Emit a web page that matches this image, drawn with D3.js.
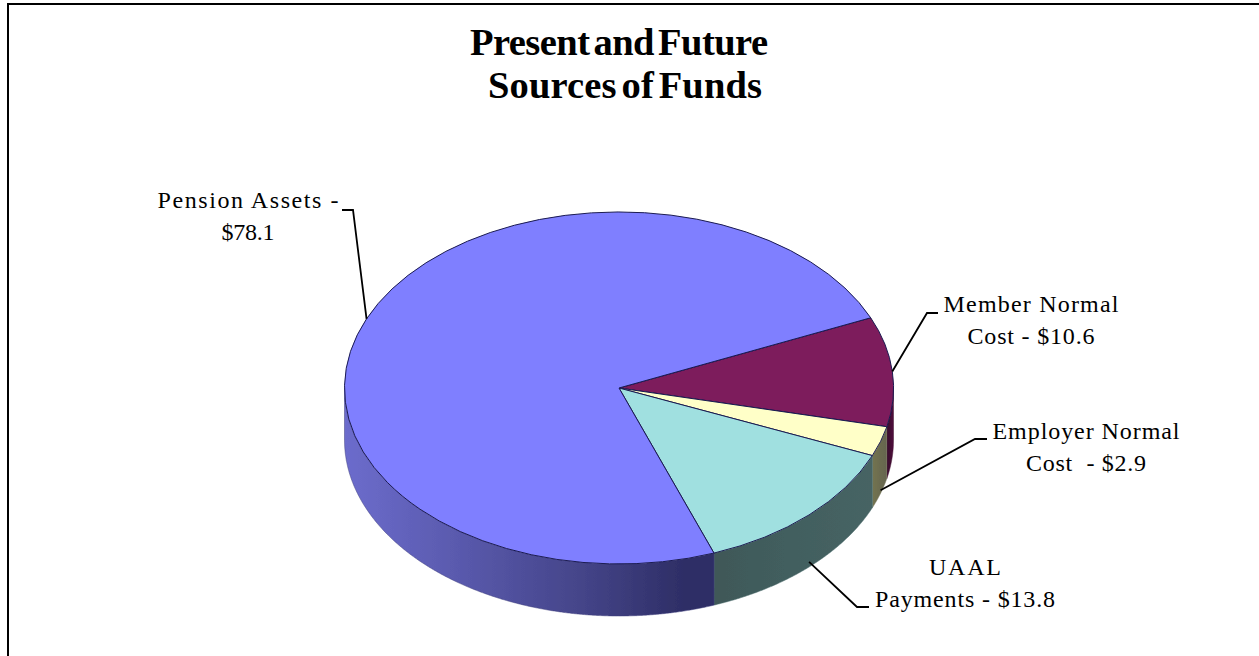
<!DOCTYPE html>
<html><head><meta charset="utf-8">
<script src="https://cdn.jsdelivr.net/npm/d3@7"></script>
<style>html,body{margin:0;padding:0;background:#fff;overflow:hidden}svg{display:block}</style>
</head><body><svg id="c" width="1259" height="656"></svg>
<script>
const categories = ["Member Normal Cost", "Employer Normal Cost", "UAAL Payments", "Pension Assets"];
const values = [10.6, 2.9, 13.8, 78.1];
const topColors = ["#7d1b5c", "#ffffc8", "#a0e0e0", "#7f7fff"];
const titleLines = ["Present and Future", "Sources of Funds"];
const labelLines = [["Member Normal", "Cost - $10.6"], ["Employer Normal", "Cost  - $2.9"], ["UAAL", "Payments - $13.8"], ["Pension Assets -", "$78.1"]];

const W = 1259, H = 656, cx = 619, cy = 388, rx = 274.5, ry = 176, depth = 52;
const svg = d3.select("#c");
const serif = "'Liberation Serif','Times New Roman',serif";

svg.append("path").attr("d", d3.line()([[8, H + 5], [8, 4], [W + 5, 4]]))
  .attr("fill", "none").attr("stroke", "#000").attr("stroke-width", 2);

const pie = d3.pie().sort(null).value(d => d)
  .startAngle(66.5 * Math.PI / 180).endAngle((66.5 + 360) * Math.PI / 180);
const slices = pie(values);
const X = a => cx + rx * Math.sin(a);
const Y = a => cy - ry * Math.cos(a);

const defs = svg.append("defs");
defs.append("filter").attr("id", "soft").attr("x", "-5%").attr("y", "-5%").attr("width", "110%").attr("height", "110%")
  .append("feGaussianBlur").attr("stdDeviation", 0.45);
const wallStops = [
  [["0", "#4f0c3c"], ["1", "#2e0526"]],
  [["0", "#73734f"], ["1", "#666650"]],
  [["0", "#3f5858"], ["0.6", "#436060"], ["1", "#466464"]],
  [["0", "#6c6ccc"], ["0.3", "#5a5aae"], ["0.65", "#444488"], ["0.92", "#2e2e66"], ["1", "#2e2e66"]]
];
const wallRange = [[893, 885], [873, 885], [713, 873], [345, 713]];
wallStops.forEach((st, i) => {
  const g = defs.append("linearGradient").attr("id", "w" + i).attr("gradientUnits", "userSpaceOnUse")
    .attr("x1", wallRange[i][0]).attr("x2", wallRange[i][1]).attr("y1", 0).attr("y2", 0);
  st.forEach(s => g.append("stop").attr("offset", s[0]).attr("stop-color", s[1]));
});

const body = svg.append("g").attr("filter", "url(#soft)");
const line = d3.line();
const lo = Math.PI / 2, hi = 3 * Math.PI / 2;
slices.forEach((s, i) => {
  const a0 = Math.max(s.startAngle, lo), a1 = Math.min(s.endAngle, hi);
  if (a1 <= a0) return;
  const as = d3.range(a0, a1, 0.005).concat([a1]);
  const pts = as.map(a => [X(a), Y(a)]).concat(as.slice().reverse().map(a => [X(a), Y(a) + depth]));
  body.append("path").attr("d", line(pts) + "Z").attr("fill", `url(#w${i})`)
    .attr("stroke", d3.color(topColors[i]).darker(2)).attr("stroke-width", 0.5);
});

const arc = d3.arc().innerRadius(0).outerRadius(1);
body.append("g").attr("transform", `translate(${cx},${cy}) scale(${rx},${ry})`)
  .selectAll("path").data(slices).join("path")
  .attr("d", arc).attr("fill", (d, i) => topColors[i])
  .attr("stroke", "#1a1a50").attr("stroke-width", 1)
  .attr("vector-effect", "non-scaling-stroke");

const elbows = [[[927, 313], [938, 313]], [[975, 439], [987, 439]], [[857, 607], [869, 607]], [[353, 210], [342, 210]]];
const wallFactor = [0, 0.94, 0.9, 0];
slices.forEach((s, i) => {
  const m = (s.startAngle + s.endAngle) / 2;
  const p = [X(m), Y(m) + depth * wallFactor[i]];
  svg.append("path").attr("d", line([p, ...elbows[i]])).attr("fill", "none")
    .attr("stroke", "#000").attr("stroke-width", 1.8);
});

const labelPos = [[1031, 312], [1086, 439], [965, 575], [248, 208]];
const labelW = [[175, 127], [187, 120], [72, 180], [181, 53]];
labelLines.forEach((ls, i) => ls.forEach((t, j) => {
  svg.append("text").attr("x", labelPos[i][0]).attr("y", labelPos[i][1] + j * 32)
    .attr("text-anchor", "middle").style("white-space", "pre")
    .attr("font-family", serif).attr("font-size", 24).attr("fill", "#000")
    .attr("textLength", labelW[i][j]).attr("lengthAdjust", "spacing").text(t);
}));
const titleW = [298, 274];
titleLines.forEach((t, j) => {
  svg.append("text").attr("x", j ? 625 : 619).attr("y", 55 + j * 43).attr("text-anchor", "middle")
    .attr("font-family", serif).attr("font-weight", "bold").attr("font-size", 38.5).attr("fill", "#000")
    .attr("word-spacing", -5)
    .attr("textLength", titleW[j]).attr("lengthAdjust", "spacing").text(t);
});
</script></body></html>
